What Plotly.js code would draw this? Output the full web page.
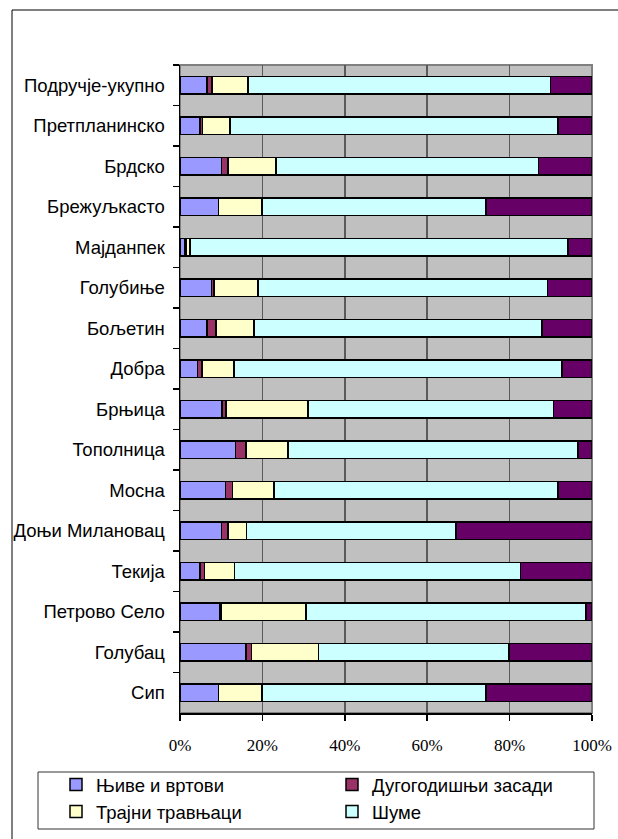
<!DOCTYPE html>
<html>
<head>
<meta charset="utf-8">
<script src="https://cdn.plot.ly/plotly-3.0.1.min.js"></script>
<style>
html,body{margin:0;padding:0;background:#fff;}
#chart{width:618px;height:839px;}
</style>
</head>
<body>
<div id="chart"></div>
<script>
const categories = ['Подручје-укупно','Претпланинско','Брдско','Брежуљкасто','Мајданпек','Голубиње','Бољетин','Добра','Брњица','Тополница','Мосна','Доњи Милановац','Текија','Петрово Село','Голубац','Сип'];
const njive     = [6.6, 4.9, 10.1, 9.3, 1.2, 7.7, 6.6, 4.3, 10.2, 13.5, 11.1, 10.1, 4.9, 9.7, 16.0, 9.3];
const dugogodisnji = [1.2, 0.5, 1.6, 0.0, 0.3, 0.5, 2.1, 1.0, 1.0, 2.5, 1.6, 1.6, 1.0, 0.4, 1.4, 0.0];
const travnjaci = [8.7, 6.7, 11.6, 10.6, 0.9, 10.7, 9.3, 7.8, 19.9, 10.2, 10.1, 4.4, 7.3, 20.5, 16.2, 10.6];
const sume      = [73.4, 79.6, 63.7, 54.4, 91.8, 70.3, 69.9, 79.6, 59.6, 70.4, 68.9, 50.9, 69.4, 67.9, 46.2, 54.4];
const ostalo    = [10.1, 8.3, 13.0, 25.7, 5.8, 10.8, 12.1, 7.3, 9.3, 3.4, 8.3, 33.0, 17.4, 1.5, 20.2, 25.7];
const seriesNames = ['Њиве и вртови','Дугогодишњи засади','Трајни травњаци','Шуме','Остало'];
const xTicks = [0, 20, 40, 60, 80, 100];

const colors = ['#9999FF','#993366','#FFFFCC','#CCFFFF','#660066'];
const legendOf = ['legend','legend2','legend','legend2','legend'];
const data = [njive, dugogodisnji, travnjaci, sume, ostalo].map((vals, i) => ({
  type: 'bar',
  orientation: 'h',
  name: seriesNames[i],
  y: categories,
  x: vals,
  marker: {color: colors[i], line: {color: '#000', width: 1.5}},
  legend: legendOf[i],
  showlegend: i < 4
}));

const L = 180, R = 26, T = 65, B = 126;
const W = 618, H = 839;
const pw = W - L - R, ph = H - T - B;
const px = v => (v - L) / pw;
const py = v => (H - B - v) / ph;
const sans = "'Liberation Sans', Arial, sans-serif";
const serif = "'Liberation Serif', 'Times New Roman', serif";

const layout = {
  width: W, height: H,
  margin: {l: L, r: R, t: T, b: B, pad: 0, autoexpand: false},
  paper_bgcolor: '#fff',
  plot_bgcolor: '#C0C0C0',
  barmode: 'stack',
  bargap: 0.57,
  font: {family: sans, size: 18.5, color: '#000'},
  xaxis: {
    range: [0, 100], tickvals: xTicks, ticktext: xTicks.map(v => v + '%'),
    showgrid: true, gridcolor: '#5a5a5a', gridwidth: 1.5,
    zeroline: false, showline: true, linecolor: '#000', linewidth: 1.5,
    ticks: 'outside', ticklen: 6, tickcolor: '#000', tickwidth: 1.5,
    tickfont: {family: serif, size: 17, color: '#000'},
    ticklabelstandoff: 10, fixedrange: true
  },
  yaxis: {
    autorange: 'reversed', type: 'category',
    showgrid: false, zeroline: false, showline: true, linecolor: '#000', linewidth: 1.5,
    ticks: 'outside', ticklen: 6, tickcolor: '#000', tickwidth: 1.5, tickson: 'boundaries',
    tickfont: {family: sans, size: 18.5, color: '#000'},
    ticklabelstandoff: 10, fixedrange: true
  },
  legend: {
    x: px(56), y: py(766), xanchor: 'left', yanchor: 'top',
    bgcolor: 'rgba(0,0,0,0)', borderwidth: 0, orientation: 'v',
    font: {family: sans, size: 18.5, color: '#000'},
    traceorder: 'normal'
  },
  legend2: {
    x: px(332), y: py(766), xanchor: 'left', yanchor: 'top',
    bgcolor: 'rgba(0,0,0,0)', borderwidth: 0, orientation: 'v',
    font: {family: sans, size: 18.5, color: '#000'},
    traceorder: 'normal'
  },
  shapes: [
    {type: 'rect', xref: 'paper', yref: 'paper', x0: 0, x1: 1, y0: 0, y1: 1,
     line: {color: '#808080', width: 2}, layer: 'below'},
    {type: 'rect', xref: 'paper', yref: 'paper', x0: px(12), x1: px(640), y0: py(860), y1: py(10),
     line: {color: '#000', width: 1}},
    {type: 'rect', xref: 'paper', yref: 'paper', x0: px(38), x1: px(594), y0: py(829), y1: py(772),
     line: {color: '#333', width: 1}}
  ]
};

Plotly.newPlot('chart', data, layout, {displayModeBar: false, staticPlot: true});
</script>
</body>
</html>
